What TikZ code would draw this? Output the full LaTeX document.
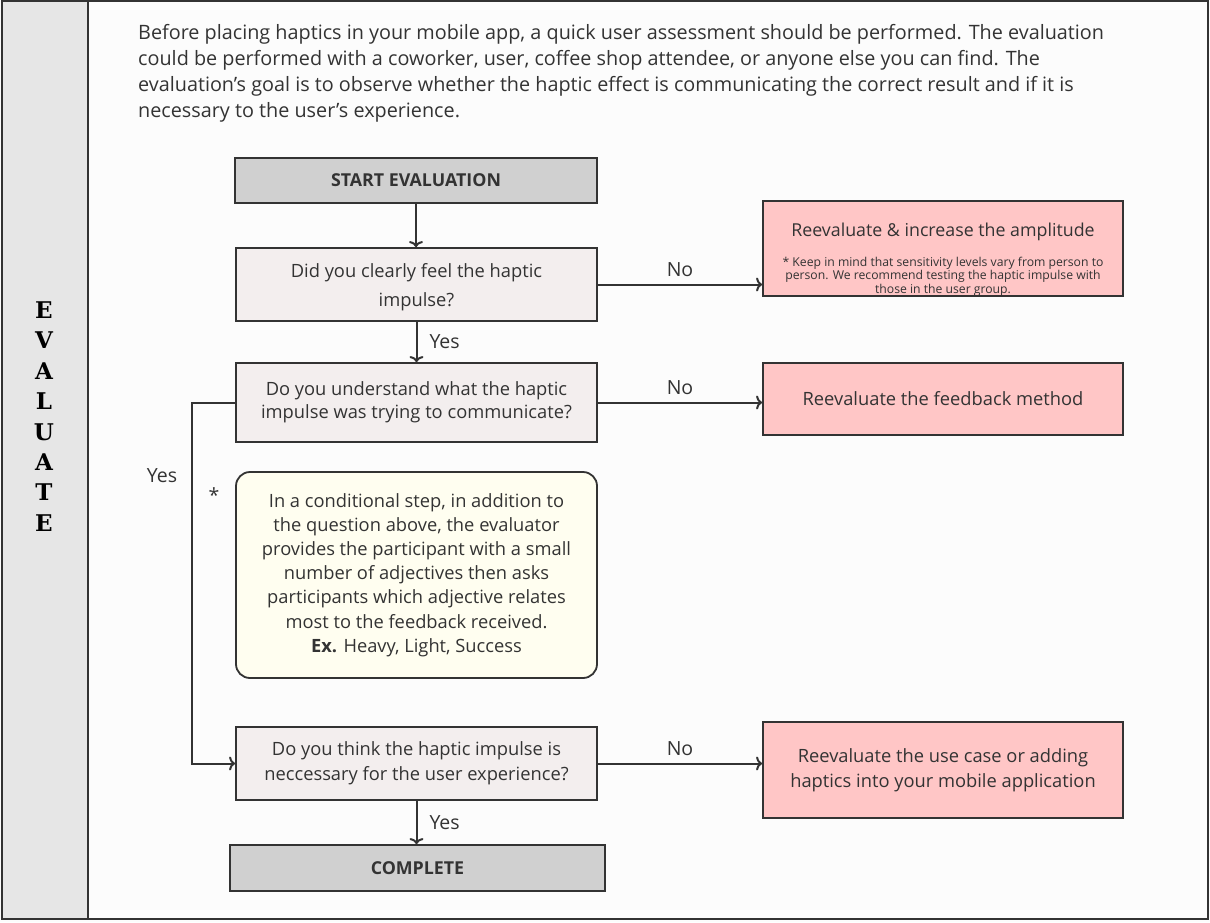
\documentclass[tikz,border=0pt]{standalone}
\usepackage{fontspec}
\setmainfont{Open Sans}
\newfontfamily\slabfont{DejaVu Serif}
\usetikzlibrary{arrows.meta}

\definecolor{ink}{HTML}{333333}
\definecolor{sidegray}{HTML}{E6E6E6}
\definecolor{termgray}{HTML}{D0D0D0}
\definecolor{askfill}{HTML}{F3EEEE}
\definecolor{redofill}{HTML}{FFC6C6}
\definecolor{notefill}{HTML}{FFFEF0}

\begin{document}
\begin{tikzpicture}[x=1pt,y=-1pt,
    box/.style={draw=ink,line width=1.8pt,inner sep=0pt,align=center,text=ink,font=\fontsize{18.3}{23}\selectfont},
    term/.style={box,fill=termgray,font=\fontsize{17.8}{20}\selectfont\bfseries},
    ask/.style={box,fill=askfill,minimum width=361pt},
    redo/.style={box,fill=redofill,minimum width=360pt},
    note/.style={box,fill=notefill,rounded corners=14pt,minimum width=361pt,minimum height=206pt,font=\fontsize{18.3}{24.2}\selectfont},
    flow/.style={draw=ink,line width=2pt,-{To[length=6pt,width=14pt]}},
    lbl/.style={text=ink,font=\fontsize{19.5}{22}\selectfont,inner sep=0pt}]
        \useasboundingbox (0,0) rectangle (1210,922);
        \fill[white!99!black] (0,0) rectangle (1210,922);
        % side bar and frame
        \fill[sidegray] (2,1) rectangle (88,919);
        \draw[ink,line width=2pt] (2,1) rectangle (1208,919);
        \draw[ink,line width=2pt] (88,1) -- (88,919);
        \node[text=black,inner sep=0pt,align=center,font=\slabfont\bfseries\fontsize{23}{30.4}\selectfont] (side) at (44,416.5) {E\\V\\A\\L\\U\\A\\T\\E};
        \node[anchor=north west,inner sep=0pt,align=left,text=ink,font=\fontsize{19.8}{26}\selectfont] (intro) at (138,24) {Before placing haptics in your mobile app, a quick user assessment should be performed. The evaluation\\could be performed with a coworker, user, coffee shop attendee, or anyone else you can find. The\\evaluation's goal is to observe whether the haptic effect is communicating the correct result and if it is\\necessary to the user's experience.};

        % main column
        \node[term,minimum width=362pt,minimum height=45pt] (start) at (416,180.5) {START EVALUATION};
        \node[ask,minimum height=73pt] (q1) at (416.5,284.5) {\rule{0pt}{20pt}Did you clearly feel the haptic\\[6pt]impulse?};
        \node[ask,minimum height=79pt] (q2) at (416.5,402.5) {Do you understand what the haptic\\impulse was trying to communicate?};
        \node[note] (cond) at (416.5,575) {In a conditional step, in addition to\\the question above, the evaluator\\provides the participant with a small\\number of adjectives then asks\\participants which adjective relates\\most to the feedback received.\\\textbf{Ex.} Heavy, Light, Success};
        \node[ask,minimum height=73pt,font=\fontsize{18.3}{25}\selectfont] (q3) at (416.5,763.5) {Do you think the haptic impulse is\\neccessary for the user experience?};
        \node[term,minimum width=375pt,minimum height=46pt] (done) at (417.5,868) {COMPLETE};

        % right column
        \node[redo,minimum height=95pt] (r1) at (943,248.5) {};
        \node[lbl,font=\fontsize{17.8}{20}\selectfont] (r1head) at (943,232) {Reevaluate \& increase the amplitude};
        \node[lbl,align=center,font=\fontsize{12.2}{13.6}\selectfont] (r1note) at (943,276.5) {* Keep in mind that sensitivity levels vary from person to\\person. We recommend testing the haptic impulse with\\those in the user group.};
        \node[redo,minimum height=72pt] (r2) at (943,399) {Reevaluate the feedback method};
        \node[redo,minimum height=96pt,font=\fontsize{18.3}{25}\selectfont] (r3) at (943,770) {Reevaluate the use case or adding\\haptics into your mobile application};

        \coordinate (turn) at (192,0);
        \draw[flow] (start.south) -- (start.south |- q1.north);
        \draw[flow] (q1.south) -- node[lbl,anchor=west,xshift=12pt] (yes1) {Yes} (q1.south |- q2.north);
        \draw[flow] (q3.south) -- node[lbl,anchor=west,xshift=12pt] (yes3) {Yes} (q3.south |- done.north);
        \draw[flow] (q1.east) -- node[lbl,above=7pt] (no1) {No} (q1.east -| r1.west);
        \draw[flow] (q2.east) -- node[lbl,above=7pt] (no2) {No} (q2.east -| r2.west);
        \draw[flow] (q3.east) -- node[lbl,above=7pt] (no3) {No} (q3.east -| r3.west);
        \draw[flow] (q2.west) -- (q2.west -| turn) |- (q3.west);
        \node[lbl] (yes2) at (162,476) {Yes};
        \node[lbl] (star) at (214,495) {*};
    \end{tikzpicture}
\end{document}
